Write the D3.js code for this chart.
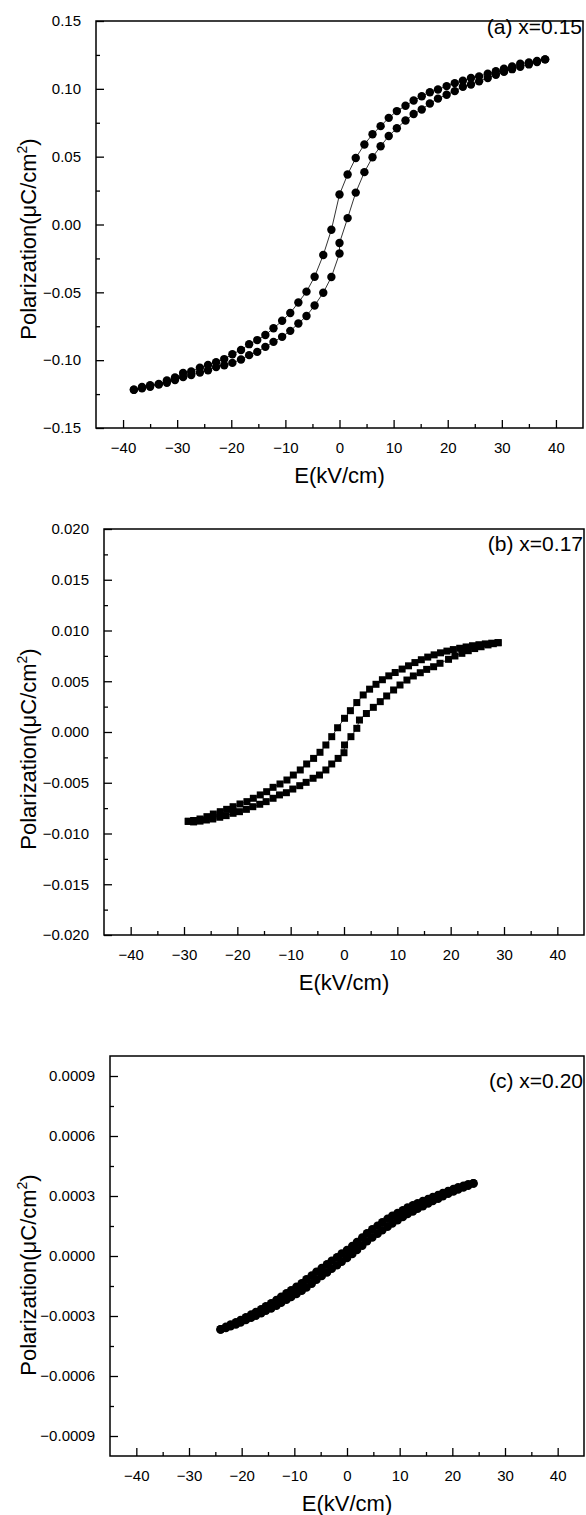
<!DOCTYPE html>
<html>
<head>
<meta charset="utf-8">
<script src="https://cdn.jsdelivr.net/npm/d3@7"></script>
<style>
  html, body { margin: 0; padding: 0; background: #fff; }
  svg { display: block; font-family: "Liberation Sans", Arial, sans-serif; }
</style>
</head>
<body>
<div id="chart"></div>
<script>
// x = 0.15 : E (kV/cm), P (uC/cm2); descending branch then ascending branch
const aUpper = [[38.0,0.1217],[36.5,0.1205],[35.0,0.1195],[33.4,0.1185],[31.9,0.1165],[30.4,0.1148],[28.9,0.1130],[27.4,0.1112],[25.8,0.1092],[24.3,0.1080],[22.8,0.1060],[21.3,0.1042],[19.8,0.1020],[18.2,0.0995],[16.7,0.0975],[15.2,0.0945],[13.7,0.0914],[12.2,0.0875],[10.6,0.0836],[9.1,0.0786],[7.6,0.0725],[6.1,0.0665],[4.6,0.0590],[3.0,0.0490],[1.5,0.0369],[0.0,0.0221],[-1.5,-0.0039],[-3.0,-0.0225],[-4.6,-0.0385],[-6.1,-0.0495],[-7.6,-0.0575],[-9.1,-0.0652],[-10.6,-0.0710],[-12.2,-0.0765],[-13.7,-0.0814],[-15.2,-0.0852],[-16.7,-0.0882],[-18.2,-0.0925],[-19.8,-0.0956],[-21.3,-0.0992],[-22.8,-0.1015],[-24.3,-0.1035],[-25.8,-0.1055],[-27.4,-0.1084],[-28.9,-0.1095],[-30.4,-0.1128],[-31.9,-0.1150],[-33.4,-0.1175],[-35.0,-0.1185],[-36.5,-0.1198],[-38.0,-0.1218]];
const aLower = [[-38.0,-0.1218],[-36.5,-0.1208],[-35.0,-0.1196],[-33.4,-0.1180],[-31.9,-0.1167],[-30.4,-0.1147],[-28.9,-0.1125],[-27.4,-0.1110],[-25.8,-0.1091],[-24.3,-0.1074],[-22.8,-0.1050],[-21.3,-0.1037],[-19.8,-0.1020],[-18.2,-0.0995],[-16.7,-0.0963],[-15.2,-0.0939],[-13.7,-0.0902],[-12.2,-0.0865],[-10.6,-0.0828],[-9.1,-0.0784],[-7.6,-0.0730],[-6.1,-0.0674],[-4.6,-0.0597],[-3.0,-0.0503],[-1.5,-0.0387],[0.0,-0.0214],[0.0,-0.0136],[1.5,0.0047],[3.0,0.0235],[4.6,0.0386],[6.1,0.0496],[7.6,0.0577],[9.1,0.0652],[10.6,0.0710],[12.2,0.0767],[13.7,0.0814],[15.2,0.0848],[16.7,0.0892],[18.2,0.0928],[19.8,0.0956],[21.3,0.0983],[22.8,0.1015],[24.3,0.1032],[25.8,0.1055],[27.4,0.1080],[28.9,0.1104],[30.4,0.1125],[31.9,0.1145],[33.4,0.1162],[35.0,0.1180],[36.5,0.1198],[38.0,0.1217]];

// x = 0.17
const bUpper = [[28.9,0.00880],[27.7,0.00875],[26.5,0.00868],[25.3,0.00860],[24.1,0.00850],[22.9,0.00838],[21.7,0.00825],[20.5,0.00812],[19.3,0.00797],[18.1,0.00780],[16.9,0.00760],[15.7,0.00738],[14.5,0.00712],[13.3,0.00684],[12.1,0.00652],[10.9,0.00620],[9.6,0.00586],[8.4,0.00553],[7.2,0.00515],[6.0,0.00470],[4.8,0.00422],[3.6,0.00365],[2.4,0.00290],[1.2,0.00210],[0.1,0.00135],[-1.2,0.00042],[-2.3,-0.00046],[-3.4,-0.00128],[-4.5,-0.00200],[-5.7,-0.00260],[-7.0,-0.00315],[-8.2,-0.00374],[-9.5,-0.00424],[-10.7,-0.00473],[-12.0,-0.00512],[-13.3,-0.00545],[-14.5,-0.00588],[-15.7,-0.00620],[-17.0,-0.00653],[-18.2,-0.00686],[-19.5,-0.00709],[-20.8,-0.00736],[-22.0,-0.00762],[-23.2,-0.00785],[-24.5,-0.00808],[-25.7,-0.00834],[-27.0,-0.00857],[-28.2,-0.00872],[-29.2,-0.00880]];
const bLower = [[-29.2,-0.00880],[-28.2,-0.00886],[-27.0,-0.00878],[-25.8,-0.00867],[-24.6,-0.00857],[-23.3,-0.00840],[-22.1,-0.00824],[-20.8,-0.00801],[-19.6,-0.00785],[-18.3,-0.00762],[-17.1,-0.00736],[-15.8,-0.00712],[-14.6,-0.00686],[-13.3,-0.00653],[-12.1,-0.00620],[-10.8,-0.00598],[-9.6,-0.00562],[-8.3,-0.00529],[-7.1,-0.00496],[-5.8,-0.00456],[-4.6,-0.00424],[-3.4,-0.00374],[-2.3,-0.00315],[-1.1,-0.00260],[0.0,-0.00204],[0.1,-0.00128],[1.3,-0.00046],[2.4,0.00036],[2.9,0.00118],[4.2,0.00182],[5.5,0.00243],[6.8,0.00299],[8.0,0.00355],[9.3,0.00414],[10.5,0.00463],[11.8,0.00512],[13.0,0.00552],[14.3,0.00584],[15.5,0.00617],[16.8,0.00643],[18.0,0.00677],[19.6,0.00716],[20.8,0.00749],[22.1,0.00775],[23.3,0.00801],[24.5,0.00822],[25.7,0.00840],[27.0,0.00858],[28.0,0.00870],[28.9,0.00880]];

// x = 0.20
const cUpper = [[24.0,0.000363],[23.0,0.000358],[22.1,0.000351],[21.1,0.000343],[20.2,0.000335],[19.2,0.000325],[18.2,0.000315],[17.3,0.000305],[16.3,0.000295],[15.4,0.000285],[14.4,0.000275],[13.4,0.000264],[12.5,0.000253],[11.5,0.000242],[10.6,0.000229],[9.6,0.000215],[8.6,0.000201],[7.7,0.000186],[6.7,0.000169],[5.8,0.000151],[4.8,0.000133],[3.8,0.000114],[2.9,0.000092],[1.9,0.000070],[1.0,0.000050],[0.0,0.000030],[-1.0,0.000012],[-1.9,-0.000006],[-2.9,-0.000024],[-3.8,-0.000042],[-4.8,-0.000060],[-5.8,-0.000079],[-6.7,-0.000098],[-7.7,-0.000117],[-8.6,-0.000136],[-9.6,-0.000154],[-10.6,-0.000171],[-11.5,-0.000187],[-12.5,-0.000204],[-13.4,-0.000220],[-14.4,-0.000236],[-15.4,-0.000251],[-16.3,-0.000266],[-17.3,-0.000280],[-18.2,-0.000293],[-19.2,-0.000306],[-20.2,-0.000320],[-21.1,-0.000332],[-22.1,-0.000343],[-23.0,-0.000354],[-24.0,-0.000367]];
const cLower = [[-24.0,-0.000367],[-23.0,-0.000360],[-22.1,-0.000351],[-21.1,-0.000342],[-20.2,-0.000332],[-19.2,-0.000320],[-18.2,-0.000309],[-17.3,-0.000298],[-16.3,-0.000286],[-15.4,-0.000273],[-14.4,-0.000262],[-13.4,-0.000248],[-12.5,-0.000234],[-11.5,-0.000219],[-10.6,-0.000205],[-9.6,-0.000190],[-8.6,-0.000174],[-7.7,-0.000157],[-6.7,-0.000138],[-5.8,-0.000119],[-4.8,-0.000100],[-3.8,-0.000082],[-2.9,-0.000064],[-1.9,-0.000046],[-1.0,-0.000028],[0.0,-0.000010],[1.0,0.000010],[1.9,0.000030],[2.9,0.000052],[3.8,0.000074],[4.8,0.000093],[5.8,0.000111],[6.7,0.000129],[7.7,0.000146],[8.6,0.000163],[9.6,0.000179],[10.6,0.000195],[11.5,0.000210],[12.5,0.000223],[13.4,0.000236],[14.4,0.000249],[15.4,0.000263],[16.3,0.000275],[17.3,0.000287],[18.2,0.000299],[19.2,0.000311],[20.2,0.000323],[21.1,0.000333],[22.1,0.000343],[23.0,0.000352],[24.0,0.000363]];

const xTicks = [-40, -30, -20, -10, 0, 10, 20, 30, 40];
const xMinor = [-35, -25, -15, -5, 5, 15, 25, 35];
const aYTicks = [-0.15, -0.10, -0.05, 0.00, 0.05, 0.10, 0.15];
const aYMinor = [-0.125, -0.075, -0.025, 0.025, 0.075, 0.125];
const bYTicks = [-0.020, -0.015, -0.010, -0.005, 0.000, 0.005, 0.010, 0.015, 0.020];
const bYMinor = [-0.0175, -0.0125, -0.0075, -0.0025, 0.0025, 0.0075, 0.0125, 0.0175];
const cYTicks = [-0.0009, -0.0006, -0.0003, 0.0000, 0.0003, 0.0006, 0.0009];
const cYMinor = [-0.00075, -0.00045, -0.00015, 0.00015, 0.00045, 0.00075];

const panels = [
  { label: "(a) x=0.15", upper: aUpper, lower: aLower, yDomain: [-0.15, 0.15], yTicks: aYTicks, yMinor: aYMinor, fmt: ".2f",
    marker: "circle", r: 4.2, left: 96, right: 583, top: 21, bottom: 428, labelY: 34, yTitleY: 239 },
  { label: "(b) x=0.17", upper: bUpper, lower: bLower, yDomain: [-0.02, 0.02], yTicks: bYTicks, yMinor: bYMinor, fmt: ".3f",
    marker: "square", left: 104, right: 584, top: 529, bottom: 935, labelY: 551, yTitleY: 749 },
  { label: "(c) x=0.20", upper: cUpper, lower: cLower, yDomain: [-0.001, 0.001], yTicks: cYTicks, yMinor: cYMinor, fmt: ".4f",
    marker: "circle", r: 4.3, left: 110, right: 584, top: 1056, bottom: 1456, labelY: 1088, yTitleY: 1275 }
];

const width = 586, height = 1515;
const svg = d3.select("#chart").append("svg")
  .attr("width", width)
  .attr("height", height);

panels.forEach(p => {
  const x = d3.scaleLinear().domain([-45, 45]).range([p.left, p.right]);
  const y = d3.scaleLinear().domain(p.yDomain).range([p.bottom, p.top]);
  const g = svg.append("g");

  // bottom axis, ticks pointing into the plot
  g.append("g")
    .attr("transform", `translate(0,${p.bottom})`)
    .call(d3.axisBottom(x).tickValues(xTicks).tickSizeInner(-8).tickSizeOuter(0).tickPadding(14)
      .tickFormat(d3.format("d")));
  g.append("g")
    .attr("transform", `translate(0,${p.bottom})`)
    .call(d3.axisBottom(x).tickValues(xMinor).tickSizeInner(-4).tickSizeOuter(0).tickFormat(""));

  g.append("g")
    .attr("transform", `translate(${p.left},0)`)
    .call(d3.axisLeft(y).tickValues(p.yTicks).tickSizeInner(-8).tickSizeOuter(0).tickPadding(15)
      .tickFormat(d3.format(p.fmt)));
  g.append("g")
    .attr("transform", `translate(${p.left},0)`)
    .call(d3.axisLeft(y).tickValues(p.yMinor).tickSizeInner(-4).tickSizeOuter(0).tickFormat(""));

  g.selectAll(".domain").remove();
  g.selectAll(".tick line").attr("stroke", "#000").attr("stroke-width", 1.3);
  g.selectAll(".tick text").attr("fill", "#000").style("font-size", "15px");

  // frame
  g.append("rect")
    .attr("x", p.left).attr("y", p.top)
    .attr("width", p.right - p.left).attr("height", p.bottom - p.top)
    .attr("fill", "none").attr("stroke", "#000").attr("stroke-width", 1.5);

  const pts = p.upper.concat(p.lower);
  const line = d3.line().x(d => x(d[0])).y(d => y(d[1]));
  g.append("path")
    .datum(pts)
    .attr("d", line)
    .attr("fill", "none")
    .attr("stroke", "#000")
    .attr("stroke-width", 0.8);

  if (p.marker === "circle") {
    g.selectAll("circle.pt")
      .data(pts)
      .enter().append("circle")
      .attr("class", "pt")
      .attr("cx", d => x(d[0]))
      .attr("cy", d => y(d[1]))
      .attr("r", p.r)
      .attr("fill", "#000");
  } else {
    const s = 7;
    g.selectAll("rect.pt")
      .data(pts)
      .enter().append("rect")
      .attr("class", "pt")
      .attr("x", d => x(d[0]) - s / 2)
      .attr("y", d => y(d[1]) - s / 2)
      .attr("width", s)
      .attr("height", s)
      .attr("fill", "#000");
  }

  g.append("text")
    .attr("x", p.right - 1)
    .attr("y", p.labelY)
    .attr("text-anchor", "end")
    .style("font-size", "21px")
    .text(p.label);

  g.append("text")
    .attr("x", x(0))
    .attr("y", p.bottom + 55)
    .attr("text-anchor", "middle")
    .style("font-size", "22px")
    .text("E(kV/cm)");

  const yt = g.append("text")
    .attr("transform", `translate(36,${p.yTitleY}) rotate(-90)`)
    .attr("text-anchor", "middle")
    .style("font-size", "22px");
  yt.append("tspan").text("Polarization(μC/cm");
  yt.append("tspan").attr("dy", -9).style("font-size", "14px").text("2");
  yt.append("tspan").attr("dy", 9).text(")");
});
</script>
</body>
</html>
